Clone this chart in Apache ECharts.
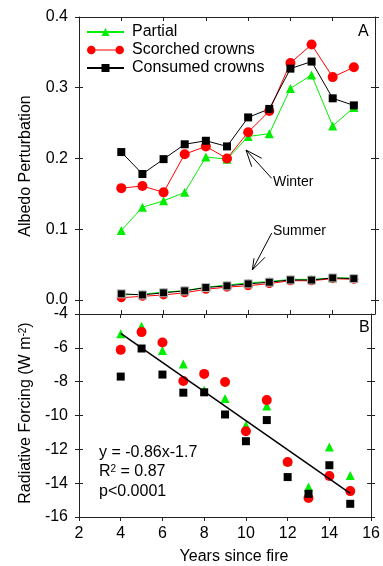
<!DOCTYPE html>
<html>
<head>
<meta charset="utf-8">
<script src="https://cdn.jsdelivr.net/npm/echarts@6/dist/echarts.min.js"></script>
<style>
html,body{margin:0;padding:0;background:#fff;}
#c{width:383px;height:566px;}
</style>
</head>
<body>
<div id="c"></div>
<script>
const years = [4,5,6,7,8,9,10,11,12,13,14,15];
const winterPartial  = [0.098,0.131,0.140,0.152,0.202,0.199,0.231,0.235,0.299,0.318,0.246,0.272];
const winterScorched = [0.158,0.161,0.152,0.206,0.217,0.200,0.237,0.267,0.335,0.361,0.315,0.329];
const winterConsumed = [0.209,0.178,0.199,0.220,0.225,0.217,0.258,0.270,0.327,0.337,0.285,0.275];
const summerPartial  = [0.007,0.008,0.011,0.013,0.018,0.021,0.024,0.026,0.029,0.029,0.031,0.031];
const summerScorched = [0.003,0.005,0.007,0.010,0.015,0.018,0.020,0.023,0.027,0.027,0.030,0.029];
const summerConsumed = [0.0085,0.007,0.010,0.0127,0.0174,0.0198,0.0226,0.025,0.0282,0.028,0.031,0.030];
const rfPartial  = [-5.17,-4.73,-6.16,-6.95,-8.5,-8.99,-10.57,-9.44,-12.7,-14.23,-11.86,-13.54];
const rfScorched = [-6.12,-5.07,-5.68,-7.96,-7.54,-8.02,-10.93,-9.09,-12.75,-14.88,-13.58,-14.47];
const rfConsumed = [-7.70,-6.04,-7.58,-8.65,-8.63,-9.94,-11.52,-10.27,-13.64,-14.63,-12.94,-15.22];
const fitX = [4, 15];
const fitY = [-5.14, -14.6];
const albedoTicks = [0, 0.1, 0.2, 0.3, 0.4];
const legendNames = ['Partial', 'Scorched crowns', 'Consumed crowns'];

const FONT = '"Liberation Sans", Arial, sans-serif';
const AX = '#222';
const pairs = (xs, ys) => xs.map((x, i) => [x, ys[i]]);

const chart = echarts.init(document.getElementById('c'), null, {renderer: 'canvas'});

function xAx(grid, pos, inside, labels) {
  return {
    type: 'value', gridIndex: grid, position: pos, min: 2, max: 16, interval: 2,
    axisLine: {show: true, onZero: false, lineStyle: {color: AX, width: 1}},
    axisTick: {show: true, inside: inside, length: 4, lineStyle: {color: AX}},
    axisLabel: {show: labels, fontSize: 16, color: '#000', fontFamily: FONT, margin: 9},
    splitLine: {show: false}
  };
}
function yAx(grid, pos, inside, labels, line, extra) {
  return Object.assign({
    type: 'value', gridIndex: grid, position: pos,
    axisLine: {show: line, onZero: false, lineStyle: {color: AX, width: 1}},
    axisTick: {show: true, inside: inside, length: 4, lineStyle: {color: AX}},
    axisLabel: {show: labels, fontSize: 16, color: '#000', fontFamily: FONT, margin: 11},
    splitLine: {show: false}
  }, extra);
}
function aY(pos, inside, labels, line) {
  const a = yAx(0, pos, inside, labels, line, {min: -0.02, max: 0.4});
  a.axisLabel.customValues = albedoTicks;
  a.axisLabel.formatter = v => v.toFixed(1);
  a.axisTick.customValues = albedoTicks;
  return a;
}
const bExtra = () => ({min: -16, max: -4, interval: 2});

const scorchedIcon = 'path://M0,5A4.3,4.3,0,1,1,8.6,5A4.3,4.3,0,1,1,0,5Z M28.4,5A4.3,4.3,0,1,1,37,5A4.3,4.3,0,1,1,28.4,5Z M8,4.5L29,4.5L29,5.5L8,5.5Z';

const option = {
  animation: false,
  textStyle: {fontFamily: FONT},
  grid: [
    {left: 79, top: 17, width: 296, height: 297},
    {left: 79, top: 314, width: 296, height: 203}
  ],
  xAxis: [
    xAx(0, 'bottom', true, false),
    xAx(0, 'top', true, false),
    xAx(1, 'bottom', false, true),
    xAx(1, 'top', true, false)
  ],
  yAxis: [
    aY('left', false, true, true),
    aY('left', true, false, false),
    aY('right', false, false, true),
    aY('right', true, false, false),
    yAx(1, 'left', false, true, true, bExtra()),
    yAx(1, 'left', true, false, false, bExtra()),
    yAx(1, 'right', false, false, true, bExtra()),
    yAx(1, 'right', true, false, false, bExtra())
  ],
  legend: {
    data: [
      {name: legendNames[0]},
      {name: legendNames[1], icon: scorchedIcon},
      {name: legendNames[2]}
    ],
    orient: 'vertical', left: 86, top: 24, padding: 0,
    itemWidth: 37, itemHeight: 10, itemGap: 2,
    selectedMode: false,
    itemStyle: {borderWidth: 0},
    textStyle: {fontSize: 16, color: '#000', fontFamily: FONT, padding: [0, 0, 0, 3]}
  },
  series: [
    {name: 'Partial', type: 'line', xAxisIndex: 0, yAxisIndex: 0, data: pairs(years, winterPartial),
     symbol: 'triangle', symbolSize: 9, color: '#00ee00', lineStyle: {width: 1, color: '#00ee00'}, itemStyle: {color: '#00ee00'}},
    {name: 'Scorched crowns', type: 'line', xAxisIndex: 0, yAxisIndex: 0, data: pairs(years, winterScorched),
     symbol: 'circle', symbolSize: 10, color: '#ff0000', lineStyle: {width: 1, color: '#ff0000'}, itemStyle: {color: '#ff0000'}},
    {name: 'Consumed crowns', type: 'line', xAxisIndex: 0, yAxisIndex: 0, data: pairs(years, winterConsumed),
     symbol: 'rect', symbolSize: 8, color: '#000', lineStyle: {width: 1, color: '#000'}, itemStyle: {color: '#000'}},
    {name: 'Partial', type: 'line', xAxisIndex: 0, yAxisIndex: 0, data: pairs(years, summerPartial),
     symbol: 'triangle', symbolSize: 9, lineStyle: {width: 1, color: '#00ee00'}, itemStyle: {color: '#00ee00'}},
    {name: 'Scorched crowns', type: 'line', xAxisIndex: 0, yAxisIndex: 0, data: pairs(years, summerScorched),
     symbol: 'circle', symbolSize: 9, lineStyle: {width: 1, color: '#ff0000'}, itemStyle: {color: '#ff0000'}},
    {name: 'Consumed crowns', type: 'line', xAxisIndex: 0, yAxisIndex: 0, data: pairs(years, summerConsumed),
     symbol: 'rect', symbolSize: 8, lineStyle: {width: 1, color: '#000'}, itemStyle: {color: '#000', borderColor: '#bbb', borderWidth: 1}},
    {name: 'Partial', type: 'scatter', xAxisIndex: 2, yAxisIndex: 4, data: pairs(years, rfPartial),
     symbol: 'triangle', symbolSize: 9, itemStyle: {color: '#00ee00', opacity: 1}},
    {name: 'Scorched crowns', type: 'scatter', xAxisIndex: 2, yAxisIndex: 4, data: pairs(years, rfScorched),
     symbol: 'circle', symbolSize: 10, itemStyle: {color: '#ff0000', opacity: 1}},
    {name: 'Consumed crowns', type: 'scatter', xAxisIndex: 2, yAxisIndex: 4, data: pairs(years, rfConsumed),
     symbol: 'rect', symbolSize: 8, itemStyle: {color: '#000', opacity: 1}},
    {name: 'fit', type: 'line', xAxisIndex: 2, yAxisIndex: 4, data: pairs(fitX, fitY),
     symbol: 'none', lineStyle: {width: 1.5, color: '#000'}, z: 5}
  ],
  graphic: [
    {type: 'text', left: 358, top: 24, style: {text: 'A', fontSize: 16, fill: '#000', fontFamily: FONT}},
    {type: 'text', left: 359, top: 320, style: {text: 'B', fontSize: 16, fill: '#000', fontFamily: FONT}},
    {type: 'text', x: 273, y: 182, style: {text: 'Winter', fontSize: 14, fill: '#000', fontFamily: FONT, verticalAlign: 'middle'}},
    {type: 'text', x: 273, y: 231, style: {text: 'Summer', fontSize: 14, fill: '#000', fontFamily: FONT, verticalAlign: 'middle'}},
    {type: 'polyline', shape: {points: [[271.7,178.3],[246,150]]}, style: {stroke: '#000', lineWidth: 1, fill: null}},
    {type: 'polyline', shape: {points: [[261.7,158.3],[246,150],[251.7,166.7]]}, style: {stroke: '#000', lineWidth: 1, fill: null}},
    {type: 'polyline', shape: {points: [[271.7,233],[252.3,270]]}, style: {stroke: '#000', lineWidth: 1, fill: null}},
    {type: 'polyline', shape: {points: [[254,258.3],[252.3,270],[265,257.3]]}, style: {stroke: '#000', lineWidth: 1, fill: null}},
    {type: 'text', x: 99, y: 453, style: {text: 'y = -0.86x-1.7', fontSize: 16, fill: '#000', fontFamily: FONT, verticalAlign: 'middle'}},
    {type: 'text', x: 99, y: 472, style: {text: 'R{sup|2} = 0.87', fontSize: 16, fill: '#000', fontFamily: FONT, verticalAlign: 'middle',
      rich: {sup: {fontSize: 10, verticalAlign: 'top', fontFamily: FONT, fill: '#000'}}}},
    {type: 'text', x: 99, y: 492, style: {text: 'p<0.0001', fontSize: 16, fill: '#000', fontFamily: FONT, verticalAlign: 'middle'}},
    {type: 'text', x: 234, y: 557, style: {text: 'Years since fire', fontSize: 16, fill: '#000', fontFamily: FONT, align: 'center', verticalAlign: 'middle'}},
    {type: 'text', x: 26, y: 166, rotation: Math.PI / 2, style: {text: 'Albedo Perturbation', fontSize: 16, fill: '#000', fontFamily: FONT, align: 'center', verticalAlign: 'middle'}},
    {type: 'text', x: 26, y: 413, rotation: Math.PI / 2, style: {text: 'Radiative Forcing (W m{sup|-2})', fontSize: 16, fill: '#000', fontFamily: FONT, align: 'center', verticalAlign: 'middle',
      rich: {sup: {fontSize: 10, verticalAlign: 'top', fontFamily: FONT, fill: '#000'}}}}
  ]
};
chart.setOption(option);
</script>
</body>
</html>
